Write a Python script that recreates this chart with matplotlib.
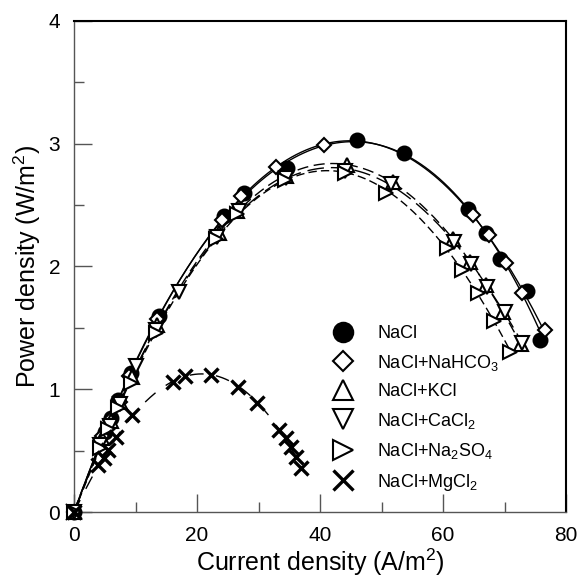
import matplotlib
matplotlib.use("Agg")
import matplotlib.pyplot as plt
import numpy as np

plt.rcParams["font.family"] = ["Liberation Sans", "DejaVu Sans"]
plt.rcParams["mathtext.fontset"] = "custom"
plt.rcParams["mathtext.rm"] = "Liberation Sans"
plt.rcParams["mathtext.it"] = "Liberation Sans"
plt.rcParams["mathtext.bf"] = "Liberation Sans"

# ---------- data ----------
nacl_i = [0, 5.0, 6.0, 7.2, 9.2, 13.8, 24.3, 27.6, 34.6, 46.0, 53.6, 64.0, 66.9, 69.3, 73.7, 75.8]
nacl_p = [0, 0.65, 0.77, 0.91, 1.13, 1.60, 2.41, 2.60, 2.80, 3.03, 2.92, 2.47, 2.27, 2.06, 1.80, 1.40]

nahco3_i = [0, 4.6, 5.8, 7.4, 9.0, 13.5, 24.0, 27.2, 32.9, 40.7, 64.8, 67.4, 70.3, 72.9, 76.5]
nahco3_p = [0, 0.62, 0.75, 0.90, 1.11, 1.57, 2.38, 2.57, 2.81, 2.99, 2.42, 2.26, 2.03, 1.78, 1.48]

kcl_i = [0, 4.5, 6.0, 7.5, 9.5, 13.5, 23.5, 26.5, 34.5, 44.3, 51.8, 61.6, 64.3, 67.0, 69.8, 72.6]
kcl_p = [0, 0.60, 0.74, 0.90, 1.10, 1.52, 2.27, 2.45, 2.74, 2.83, 2.69, 2.22, 2.04, 1.85, 1.63, 1.37]

cacl2_i = [0, 4.3, 5.8, 7.4, 10.0, 13.4, 17.0, 23.3, 26.8, 34.4, 44.0, 51.5, 61.8, 64.6, 67.2, 70.0, 72.8]
cacl2_p = [0, 0.55, 0.70, 0.88, 1.19, 1.48, 1.79, 2.24, 2.45, 2.72, 2.78, 2.67, 2.20, 2.02, 1.83, 1.63, 1.38]

na2so4_i = [0, 4.2, 5.6, 7.2, 9.2, 13.3, 23.0, 26.5, 34.3, 44.0, 50.8, 60.6, 63.1, 65.7, 68.3, 70.9]
na2so4_p = [0, 0.52, 0.68, 0.85, 1.05, 1.46, 2.22, 2.43, 2.70, 2.76, 2.60, 2.15, 1.97, 1.78, 1.56, 1.30]

mgcl2_i = [0, 3.95, 4.8, 5.6, 6.9, 9.4, 16.1, 18.0, 22.3, 26.7, 29.7, 33.4, 34.4, 35.3, 36.1, 36.9]
mgcl2_p = [0, 0.38, 0.44, 0.505, 0.61, 0.79, 1.06, 1.11, 1.12, 1.02, 0.89, 0.67, 0.60, 0.53, 0.45, 0.36]

series = [
    ("NaCl", nacl_i, nacl_p, "o", "full", "-", 4),
    ("NaCl+NaHCO$_3$", nahco3_i, nahco3_p, "D", "none", "-", 4),
    ("NaCl+KCl", kcl_i, kcl_p, "^", "none", (0, (8, 4)), 4),
    ("NaCl+CaCl$_2$", cacl2_i, cacl2_p, "v", "none", (0, (12, 5)), 4),
    ("NaCl+Na$_2$SO$_4$", na2so4_i, na2so4_p, ">", "none", (0, (6, 3)), 4),
    ("NaCl+MgCl$_2$", mgcl2_i, mgcl2_p, "x", "none", (0, (10, 9)), 4),
]
msizes = {"o": 10, "D": 7.5, "^": 10, "v": 10, ">": 10, "x": 10}

fig = plt.figure(figsize=(5.83, 5.78), dpi=100)
ax = fig.add_axes([0.127, 0.114, 0.844, 0.850])

for label, xi, yp, mk, fill, ls, deg in series:
    xi = np.asarray(xi)
    yp = np.asarray(yp)
    # smooth trend line fitted through the measured points
    coef = np.polyfit(xi, yp, deg)
    xs = np.linspace(0, xi.max(), 200)
    ax.plot(xs, np.polyval(coef, xs), color="black", linestyle=ls, linewidth=1.0)
    ax.plot(xi, yp, linestyle="none", marker=mk, markersize=msizes[mk],
            markerfacecolor="black" if fill == "full" else "white",
            markeredgecolor="black", markeredgewidth=1.5 if mk != "x" else 2.4,
            label=label, clip_on=False, zorder=3)

ax.set_xlim(0, 80)
ax.set_ylim(0, 4)
ax.set_xticks([0, 20, 40, 60, 80])
ax.set_xticks([10, 30, 50, 70], minor=True)
ax.set_yticks([0, 1, 2, 3, 4])
ax.set_yticks([0.5, 1.5, 2.5, 3.5], minor=True)
ax.tick_params(which="both", direction="in", labelsize=15, color="#555555")
ax.tick_params(which="major", length=13, width=1)
ax.tick_params(which="minor", length=7, width=1)
ax.tick_params(axis="x", pad=10)
ax.tick_params(axis="y", pad=10)

for side in ("left", "bottom"):
    ax.spines[side].set_color("#555555")
    ax.spines[side].set_linewidth(1.0)
for side in ("top", "right"):
    ax.spines[side].set_color("black")
    ax.spines[side].set_linewidth(1.5)

ax.set_xlabel("Current density (A/m$^2$)", fontsize=18, labelpad=1)
ax.set_ylabel("Power density (W/m$^2$)", fontsize=18, labelpad=4)

ax.legend(loc="upper left", bbox_to_anchor=(0.51, 0.395), frameon=False,
          fontsize=13, markerscale=1.4, handlelength=1.2, handletextpad=1.3,
          labelspacing=0.58, borderaxespad=0)

fig.savefig("out.png", dpi=100)
